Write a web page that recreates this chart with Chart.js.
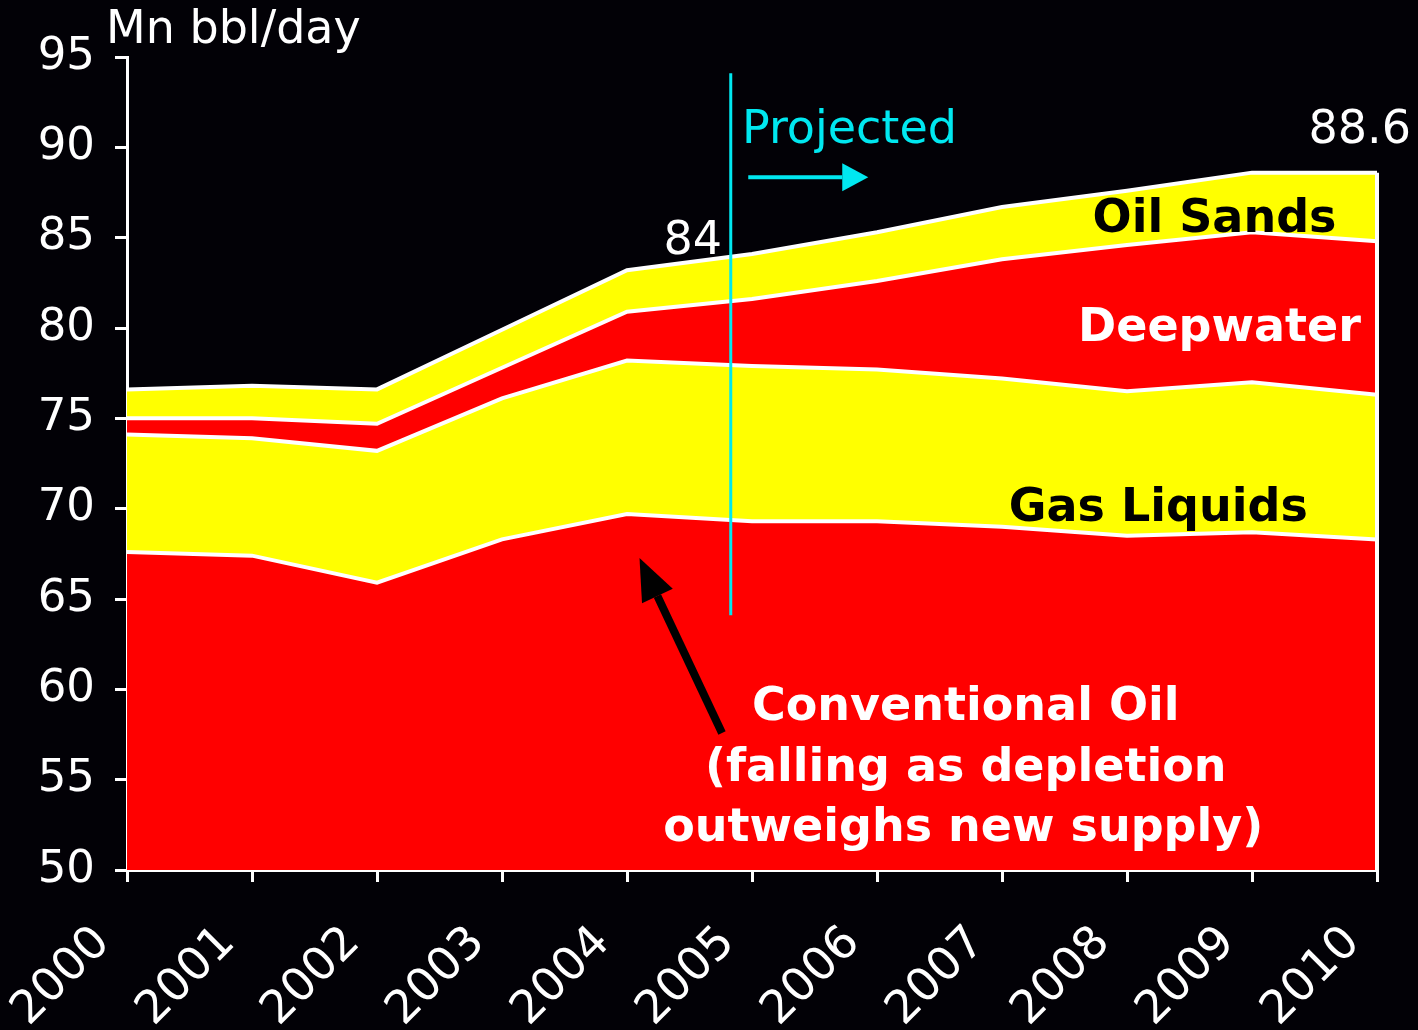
<!DOCTYPE html>
<html>
<head>
<meta charset="utf-8">
<script src="https://cdn.jsdelivr.net/npm/chart.js@4.4.1/dist/chart.umd.min.js"></script>
<style>
  html, body { margin: 0; padding: 0; background: #020106; }
  #wrap { width: 1418px; height: 1030px; }
</style>
</head>
<body>
<div id="wrap"><canvas id="c" width="1418" height="1030"></canvas></div>
<script>
// years on the x axis
const years = [2000, 2001, 2002, 2003, 2004, 2005, 2006, 2007, 2008, 2009, 2010];

// top edge of each stacked layer (Mn bbl/day)
const conventionalTop = [67.6, 67.4, 65.9, 68.3, 69.7, 69.3, 69.3, 69.0, 68.5, 68.7, 68.3];
const gasLiquidsTop   = [74.1, 73.9, 73.2, 76.1, 78.2, 77.9, 77.7, 77.2, 76.5, 77.0, 76.3];
const deepwaterTop    = [75.0, 75.0, 74.7, 77.8, 80.9, 81.6, 82.6, 83.8, 84.6, 85.3, 84.8];
const oilSandsTop     = [76.6, 76.8, 76.6, 79.9, 83.2, 84.1, 85.3, 86.7, 87.6, 88.6, 88.6];

const yTicks = [50, 55, 60, 65, 70, 75, 80, 85, 90, 95];
const projectedFrom = 2004.83;

const RED = '#ff0000', YELLOW = '#ffff00', CYAN = '#00e8f0', WHITE = '#ffffff';
const FONT = '"DejaVu Sans", Verdana, sans-serif';

const pts = arr => arr.map((v, i) => ({ x: years[i], y: v }));

function layer(label, values, color, fill) {
  return {
    label: label,
    data: pts(values),
    backgroundColor: color,
    borderColor: WHITE,
    borderWidth: 4,
    pointRadius: 0,
    tension: 0,
    fill: fill
  };
}

function arrow(ctx, x1, y1, x2, y2, color, width, headLen, headW) {
  const ang = Math.atan2(y2 - y1, x2 - x1);
  const bx = x2 - headLen * Math.cos(ang), by = y2 - headLen * Math.sin(ang);
  ctx.strokeStyle = color;
  ctx.fillStyle = color;
  ctx.lineWidth = width;
  ctx.beginPath();
  ctx.moveTo(x1, y1);
  ctx.lineTo(bx, by);
  ctx.stroke();
  ctx.beginPath();
  ctx.moveTo(x2, y2);
  ctx.lineTo(bx + headW * Math.sin(ang), by - headW * Math.cos(ang));
  ctx.lineTo(bx - headW * Math.sin(ang), by + headW * Math.cos(ang));
  ctx.closePath();
  ctx.fill();
}

const notes = {
  id: 'notes',
  afterDatasetsDraw(chart) {
    const ctx = chart.ctx;
    const xs = chart.scales.x, ys = chart.scales.y;
    const X = v => xs.getPixelForValue(v), Y = v => ys.getPixelForValue(v) + 4;
    ctx.save();

    // right edge of the stacked areas
    ctx.strokeStyle = WHITE;
    ctx.lineWidth = 4;
    ctx.beginPath();
    ctx.moveTo(X(2010), ys.getPixelForValue(oilSandsTop[10]));
    ctx.lineTo(X(2010), ys.getPixelForValue(50));
    ctx.stroke();

    // projected divider
    ctx.strokeStyle = CYAN;
    ctx.lineWidth = 3;
    ctx.beginPath();
    ctx.moveTo(X(projectedFrom), ys.getPixelForValue(94.1));
    ctx.lineTo(X(projectedFrom), ys.getPixelForValue(64.1));
    ctx.stroke();
    arrow(ctx, X(2004.97), ys.getPixelForValue(88.35), X(2005.93), ys.getPixelForValue(88.35), CYAN, 4, 26, 14);

    ctx.textBaseline = 'middle';
    ctx.font = '46px ' + FONT;
    ctx.fillStyle = CYAN;
    ctx.textAlign = 'left';
    ctx.fillText('Projected', X(2004.92), Y(91.12));

    ctx.fillStyle = WHITE;
    ctx.textAlign = 'right';
    ctx.fillText('84', X(2004.76), Y(84.98));
    ctx.fillText('88.6', 1411, Y(91.12));

    ctx.textAlign = 'left';
    ctx.fillText('Mn bbl/day', 106, 31);

    ctx.font = 'bold 46px ' + FONT;
    ctx.textAlign = 'center';
    ctx.fillStyle = '#000000';
    ctx.fillText('Oil Sands', X(2008.70), Y(86.2));
    ctx.fillText('Gas Liquids', X(2008.25), Y(70.2));
    ctx.fillStyle = WHITE;
    ctx.fillText('Deepwater', X(2008.74), Y(80.17));
    ctx.fillText('Conventional Oil', X(2006.71), Y(59.19));
    ctx.fillText('(falling as depletion', X(2006.71), Y(55.81));
    ctx.fillText('outweighs new supply)', X(2006.69), Y(52.49));

    // arrow to the conventional layer
    arrow(ctx, X(2004.76), ys.getPixelForValue(57.58), X(2004.10), ys.getPixelForValue(67.27), '#000000', 8, 42, 17);

    ctx.restore();
  }
};

new Chart(document.getElementById('c'), {
  type: 'line',
  data: {
    datasets: [
      layer('Conventional Oil', conventionalTop, RED, 'origin'),
      layer('Gas Liquids', gasLiquidsTop, YELLOW, '-1'),
      layer('Deepwater', deepwaterTop, RED, '-1'),
      layer('Oil Sands', oilSandsTop, YELLOW, '-1')
    ]
  },
  options: {
    responsive: false,
    animation: false,
    layout: { padding: { top: 57, right: 41, left: 0, bottom: 0 } },
    plugins: { legend: { display: false }, tooltip: { enabled: false } },
    scales: {
      x: {
        type: 'linear',
        min: 2000,
        max: 2010,
        afterBuildTicks: s => { s.ticks = years.map(v => ({ value: v })); },
        afterFit: s => { s.height = 160; s.paddingLeft = 0; s.paddingRight = 0; },
        border: { color: WHITE, width: 3 },
        grid: { drawOnChartArea: false, color: WHITE, lineWidth: 3, tickLength: 12 },
        ticks: {
          color: WHITE,
          font: { family: FONT, size: 46 },
          maxRotation: 45,
          minRotation: 45,
          padding: 34,
          labelOffset: -24,
          callback: v => String(v)
        }
      },
      y: {
        min: 50,
        max: 95,
        afterBuildTicks: s => { s.ticks = yTicks.map(v => ({ value: v })); },
        afterFit: s => { s.width = 127; },
        border: { color: WHITE, width: 3 },
        grid: { drawOnChartArea: false, color: WHITE, lineWidth: 3, tickLength: 12 },
        ticks: {
          color: WHITE,
          font: { family: FONT, size: 45 },
          padding: 20
        }
      }
    }
  },
  plugins: [notes]
});
</script>
</body>
</html>
